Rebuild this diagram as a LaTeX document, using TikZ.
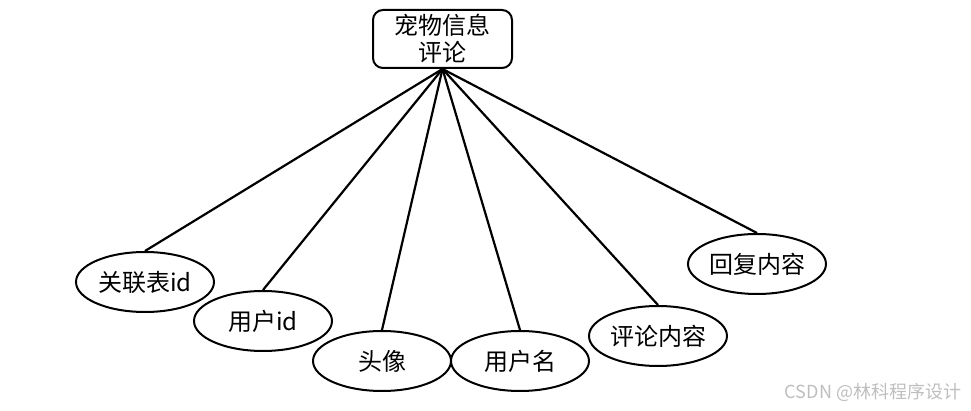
\documentclass[tikz,border=0pt]{standalone}
\usepackage{fontspec}
\setmainfont{Noto Sans CJK SC}
\usetikzlibrary{shapes.geometric}
\definecolor{markgray}{RGB}{190,190,190}

\begin{document}
\begin{tikzpicture}[x=0.5pt,y=-0.5pt,
	entity/.style={draw,line width=1pt,rounded corners=5pt,minimum width=69.5pt,minimum height=29pt,inner sep=0pt,align=center,font=\fontsize{12}{13.5}\selectfont},
	attr/.style={draw,ellipse,line width=1pt,minimum width=69pt,minimum height=30pt,inner sep=0pt,font=\fontsize{12}{14}\selectfont},
	link/.style={line width=1.1pt}]
	\useasboundingbox (0,0) rectangle (971,411);
	\node[entity] (pinglun) at (442.5,39) {宠物信息\\评论};
	\node[attr] (guanlian) at (145,282) {关联表id};
	\node[attr] (yonghuid) at (263,321) {用户id};
	\node[attr] (touxiang) at (382,361) {头像};
	\node[attr] (yonghuming) at (520,361) {用户名};
	\node[attr] (neirong) at (658,336) {评论内容};
	\node[attr] (huifu) at (757,264) {回复内容};
	\foreach \a in {guanlian,yonghuid,touxiang,yonghuming,neirong,huifu}
		\draw[link] (pinglun.south) -- (\a.north);
	\node[text=markgray,font=\fontsize{9}{11}\selectfont] (mark) at (873,392) {CSDN @林科程序设计};
\end{tikzpicture}
\end{document}
